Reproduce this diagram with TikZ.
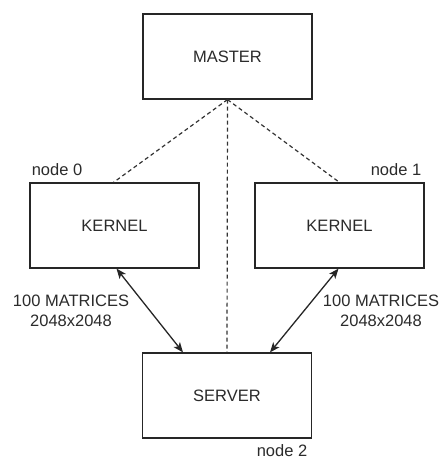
\documentclass[tikz,border=0pt]{standalone}
\usepackage{fontspec}
\setmainfont{Liberation Sans}
\usetikzlibrary{arrows.meta}
\definecolor{txt}{HTML}{2B2B2B}
\tikzset{
  box/.style={draw=black!85, line width=1.2pt, fill=white, minimum width=169pt,
    minimum height=85pt, inner sep=0pt, text=txt, font=\fontsize{16.5}{20}\selectfont},
  lbl/.style={text=txt, inner sep=0pt, align=center, font=\fontsize{16.5}{20}\selectfont},
  link/.style={draw=black!80, line width=1.2pt, dash pattern=on 4pt off 3pt},
  flow/.style={draw=black!85, line width=1.3pt,
    {Stealth[length=10pt,width=8pt,inset=2.5pt]}-{Stealth[length=10pt,width=8pt,inset=2.5pt]}}
}
\begin{document}
\begin{tikzpicture}[x=1pt,y=-1pt]
\useasboundingbox (0,0) rectangle (440,460);

\node[box] (master) at (227.5,56.5) {MASTER};
\node[box] (kern0) at (114.5,225.5) {KERNEL};
\node[box] (kern1) at (339.5,225.5) {KERNEL};
\node[box] (server) at (227,395.5) {SERVER};

% dashed control links from the master
\draw[link] (master.south) -- ([xshift=-1pt]kern0.north);
\draw[link] (master.south) -- (kern1.north);
\draw[link] (master.south) -- (server.north);

% data transfer between kernels and server
\draw[flow] ([xshift=2pt]kern0.south) -- ([xshift=-44pt]server.north);
\draw[flow] ([xshift=-1pt]kern1.south) -- ([xshift=43pt]server.north);

% labels
\node[lbl] (n0) at (57,170) {node 0};
\node[lbl] (n1) at (396,170) {node 1};
\node[lbl] (n2) at (282,451) {node 2};
\node[lbl] (m0) at (71,311) {100 MATRICES\\2048x2048};
\node[lbl] (m1) at (381,311) {100 MATRICES\\2048x2048};
\end{tikzpicture}
\end{document}
